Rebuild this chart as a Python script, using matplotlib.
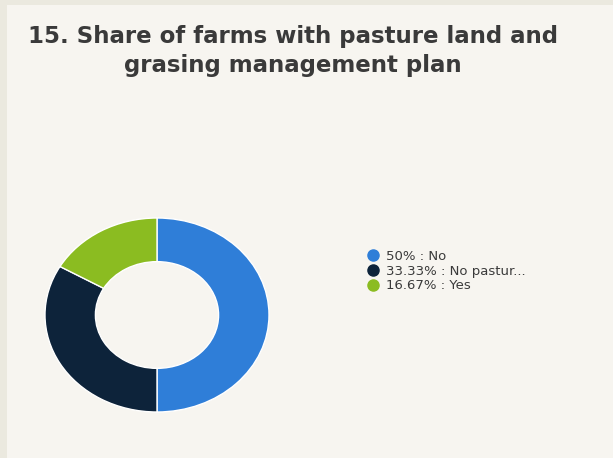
import matplotlib.pyplot as plt
from matplotlib.lines import Line2D
from matplotlib.patches import Rectangle

# datos del gráfico
categorias = ["No", "No pastur...", "Yes"]
valores = [50, 33.33, 16.67]
colores = ["#2f7ed8", "#0d233a", "#8bbc21"]
titulo = "15. Share of farms with pasture land and\ngrasing management plan"

fig = plt.figure(figsize=(6.13, 4.58), dpi=100)
fig.patch.set_facecolor("#ebe9df")
# panel interior
fig.add_artist(Rectangle((7 / 613, 0), 1, 1 - 5 / 458, transform=fig.transFigure,
                         facecolor="#f7f5f0", edgecolor="none", zorder=0))

fig.text(293 / 613, 1 - 25 / 458, titulo, ha="center", va="top", fontsize=16.5,
         color="#3a3a3a", linespacing=1.35, fontweight="bold")

ax = fig.add_axes([45 / 613, 46 / 458, 224 / 613, 194 / 458])
ax.pie(valores, colors=colores, startangle=90, counterclock=False, radius=1,
       wedgeprops=dict(width=0.45, edgecolor="white", linewidth=1))
ax.set_aspect("auto")
ax.set_xlim(-1, 1)
ax.set_ylim(-1, 1)
ax.axis("off")

etiquetas = [f"{v:g}% : {c}" for v, c in zip(valores, categorias)]
handles = [Line2D([], [], marker="o", linestyle="none", markersize=8,
                  markerfacecolor=col, markeredgecolor=col) for col in colores]
leg = fig.legend(handles, etiquetas, loc="center left",
                 bbox_to_anchor=(361 / 613, 1 - 271 / 458), frameon=False,
                 fontsize=9.5, handletextpad=0.5, labelspacing=0.15,
                 handlelength=1.0, borderaxespad=0)
for t in leg.get_texts():
    t.set_color("#3a3a3a")

fig.savefig("out.png", dpi=100, facecolor=fig.get_facecolor())
